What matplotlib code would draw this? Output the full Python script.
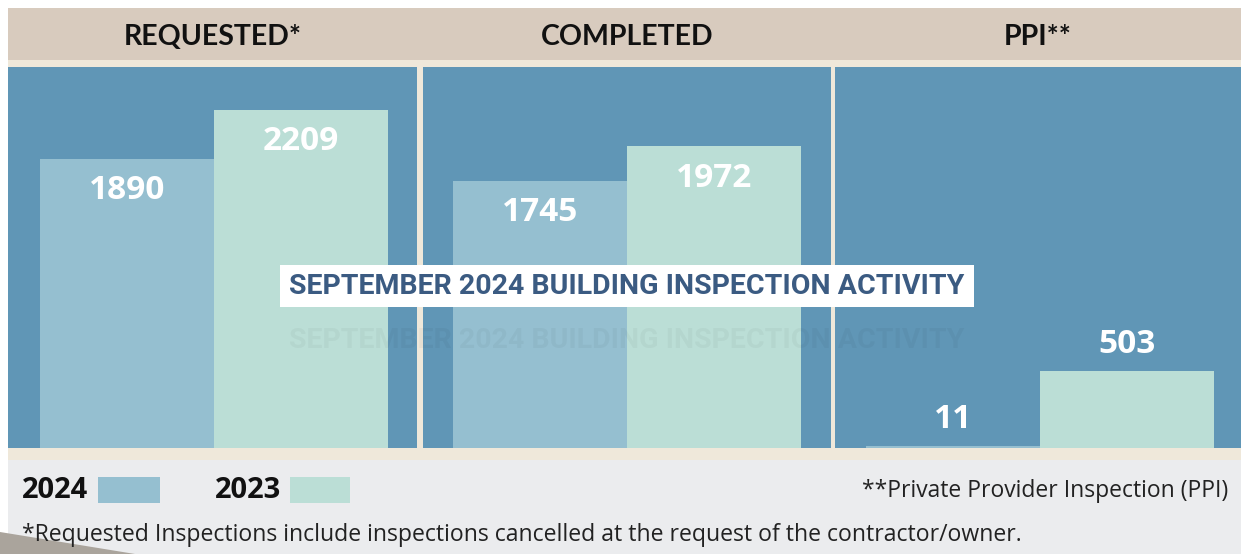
import matplotlib.pyplot as plt
from matplotlib.patches import Rectangle, Polygon

# dữ liệu
panels = ['REQUESTED*', 'COMPLETED', 'PPI**']
years = ['2024', '2023']
values_2024 = [1890, 1745, 11]
values_2023 = [2209, 1972, 503]
labels_inside = [True, True, False]

title = 'SEPTEMBER 2024 BUILDING INSPECTION ACTIVITY'
note_ppi = '**Private Provider Inspection (PPI)'
note_req = '*Requested Inspections include inspections cancelled at the request of the contractor/owner.'

# màu
c_header = '#d8cbbe'
c_cream = '#efe8da'
c_panel = '#6096b6'
c_2024 = '#95bfd0'
c_2023 = '#bbded6'
c_footer = '#ebecee'
c_title = '#3b5b82'

W, H = 1241, 554
fig = plt.figure(figsize=(W / 100, H / 100), dpi=100)
fig.patch.set_facecolor('white')

# nền (toạ độ pixel)
bg = fig.add_axes([0, 0, 1, 1])
bg.set_xlim(0, W)
bg.set_ylim(H, 0)
bg.axis('off')
bg.add_patch(Rectangle((8, 8), W - 8, 54, color=c_header, lw=0))
bg.add_patch(Rectangle((8, 60), W - 8, 400, color=c_cream, lw=0))
bg.add_patch(Rectangle((8, 460), W - 8, H - 460, color=c_footer, lw=0))

# vị trí các ô (px)
panel_x = [(8, 417), (423, 831), (835, 1241)]
bar_left = [40, 453, 866]
bar_w = 174
top, bottom = 67, 448
ymax = 2490

for i, name in enumerate(panels):
    x0, x1 = panel_x[i]
    bg.add_patch(Rectangle((x0, top), x1 - x0, bottom - top, color=c_panel, lw=0))
    bg.text((x0 + x1) / 2, 37, name, ha='center', va='center',
            fontsize=20.5, fontweight='bold', family='Lato', color='#111111')

    ax = fig.add_axes([x0 / W, 1 - bottom / H, (x1 - x0) / W, (bottom - top) / H])
    ax.axis('off')
    off = (bar_left[i] - x0) / bar_w
    ax.set_xlim(-off, (x1 - x0) / bar_w - off)
    ax.set_ylim(0, ymax)
    vals = [values_2024[i], values_2023[i]]
    ax.bar([0, 1], vals, width=1, align='edge', color=[c_2024, c_2023], lw=0)
    for j, v in enumerate(vals):
        dy = -23 if labels_inside[i] else 19
        ax.annotate(str(v), (j + 0.5, v), xytext=(0, dy), textcoords='offset points',
                    ha='center', va='center', fontsize=24, fontweight='bold',
                    family='Open Sans', color='white')

# lớp trên cùng: tiêu đề mờ + hộp tiêu đề
ov = fig.add_axes([0, 0, 1, 1])
ov.set_xlim(0, W)
ov.set_ylim(H, 0)
ov.axis('off')
ov.text(627, 340, title, ha='center', va='center', fontsize=20.5, fontweight='bold',
        family='Roboto', color='black', alpha=0.035)
ov.add_patch(Rectangle((280, 265), 694, 42, color='white', lw=0))
ov.text(627, 287, title, ha='center', va='center', fontsize=20.5, fontweight='bold',
        family='Roboto', color=c_title)

# chú thích
ov.text(22, 490, years[0], ha='left', va='center', fontsize=21, fontweight='bold',
        family='Open Sans', color='#111111')
ov.add_patch(Rectangle((98, 477), 62, 26, color=c_2024, lw=0))
ov.text(215, 490, years[1], ha='left', va='center', fontsize=21, fontweight='bold',
        family='Open Sans', color='#111111')
ov.add_patch(Rectangle((290, 477), 60, 26, color=c_2023, lw=0))
ov.text(1228, 491, note_ppi, ha='right', va='center', fontsize=16.5,
        family='Open Sans', color='#222222')
ov.text(22, 535, note_req, ha='left', va='center', fontsize=16.55,
        family='Open Sans', color='#222222')

# mảng xám góc dưới trái
ov.add_patch(Polygon([(0, 532), (135, 554), (0, 554)], color='#aaa49c', lw=0, zorder=0))

fig.savefig('out.png', dpi=100)
